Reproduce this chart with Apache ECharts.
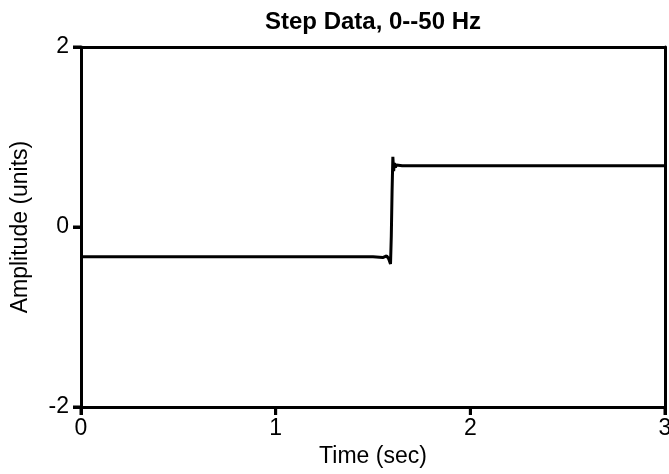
<!DOCTYPE html>
<html>
<head>
<meta charset="utf-8">
<script src="https://cdn.jsdelivr.net/npm/echarts@6/dist/echarts.min.js"></script>
<style>
  html, body { margin: 0; padding: 0; background: #fff; }
  #chart { width: 669px; height: 474px; }
</style>
</head>
<body>
<div id="chart"></div>
<script>
// Step response sampled around the transition (seconds, units)
const timeSec = [0, 1.50, 1.55, 1.57, 1.58, 1.585, 1.59, 1.594, 1.598, 1.602, 1.606, 1.61, 1.615, 1.62, 1.63, 1.65, 1.70, 3.0];
const amplitude = [-0.33, -0.33, -0.34, -0.32, -0.35, -0.37, -0.41, -0.10, 0.40, 0.78, 0.62, 0.71, 0.66, 0.69, 0.675, 0.68, 0.68, 0.68];

const xTicks = [0, 1, 2, 3];
const yTicks = [-2, 0, 2];

const FONT = 'Liberation Sans, Arial, Helvetica, sans-serif';
const TICK_LEN = 8;
const points = timeSec.map((t, i) => [t, amplitude[i]]);
const xMin = xTicks[0], xMax = xTicks[xTicks.length - 1];
const yMin = yTicks[0], yMax = yTicks[yTicks.length - 1];

const frameLine = { show: true, onZero: false, lineStyle: { color: '#000', width: 3 } };

const chart = echarts.init(document.getElementById('chart'));
chart.setOption({
  animation: false,
  backgroundColor: '#ffffff',
  title: {
    text: 'Step Data, 0--50 Hz',
    left: 368,
    textAlign: 'center',
    top: 5,
    textStyle: { fontFamily: FONT, fontSize: 24, fontWeight: 'bold', color: '#000' }
  },
  grid: {
    left: 81, right: 4, top: 47, bottom: 67,
    outerBoundsMode: 'none',
    containLabel: false,
    show: false
  },
  xAxis: [{
    type: 'value',
    position: 'bottom',
    min: xMin, max: xMax, interval: 1,
    name: 'Time (sec)',
    nameLocation: 'middle',
    nameGap: 36,
    nameTextStyle: { fontFamily: FONT, fontSize: 23, color: '#000' },
    axisLine: frameLine,
    axisTick: { show: true, inside: false, length: TICK_LEN, lineStyle: { color: '#000', width: 3 } },
    axisLabel: { fontFamily: FONT, fontSize: 23, color: '#000', margin: 10, showMaxLabel: true },
    splitLine: { show: false }
  }, {
    type: 'value',
    position: 'top',
    min: xMin, max: xMax, interval: 1,
    axisLine: frameLine,
    axisTick: { show: false },
    axisLabel: { show: false },
    splitLine: { show: false }
  }],
  yAxis: [{
    type: 'value',
    position: 'left',
    min: yMin, max: yMax, interval: 2,
    name: 'Amplitude (units)',
    nameLocation: 'middle',
    nameGap: 49,
    nameTextStyle: { fontFamily: FONT, fontSize: 23, color: '#000' },
    axisLine: frameLine,
    axisTick: { show: true, inside: false, length: TICK_LEN, lineStyle: { color: '#000', width: 3 } },
    axisLabel: { fontFamily: FONT, fontSize: 23, color: '#000', margin: 12 },
    splitLine: { show: false }
  }, {
    type: 'value',
    position: 'right',
    min: yMin, max: yMax, interval: 2,
    axisLine: frameLine,
    axisTick: { show: false },
    axisLabel: { show: false },
    splitLine: { show: false }
  }],
  series: [{
    type: 'line',
    data: points,
    showSymbol: false,
    lineStyle: { color: '#000', width: 3 },
    clip: true
  }]
});

// Outward tick marks, located with the chart's own axis scales
const tickMarks = [];
xTicks.forEach(v => {
  const p = chart.convertToPixel({ xAxisIndex: 0, yAxisIndex: 0 }, [v, yMin]);
  tickMarks.push({
    type: 'line', z: 100, silent: true,
    shape: { x1: p[0], y1: p[1], x2: p[0], y2: p[1] + TICK_LEN },
    style: { stroke: '#000', lineWidth: 3 }
  });
});
yTicks.forEach(v => {
  const p = chart.convertToPixel({ xAxisIndex: 0, yAxisIndex: 0 }, [xMin, v]);
  tickMarks.push({
    type: 'line', z: 100, silent: true,
    shape: { x1: p[0], y1: p[1], x2: p[0] - TICK_LEN, y2: p[1] },
    style: { stroke: '#000', lineWidth: 3 }
  });
});
chart.setOption({ graphic: tickMarks });
</script>
</body>
</html>
